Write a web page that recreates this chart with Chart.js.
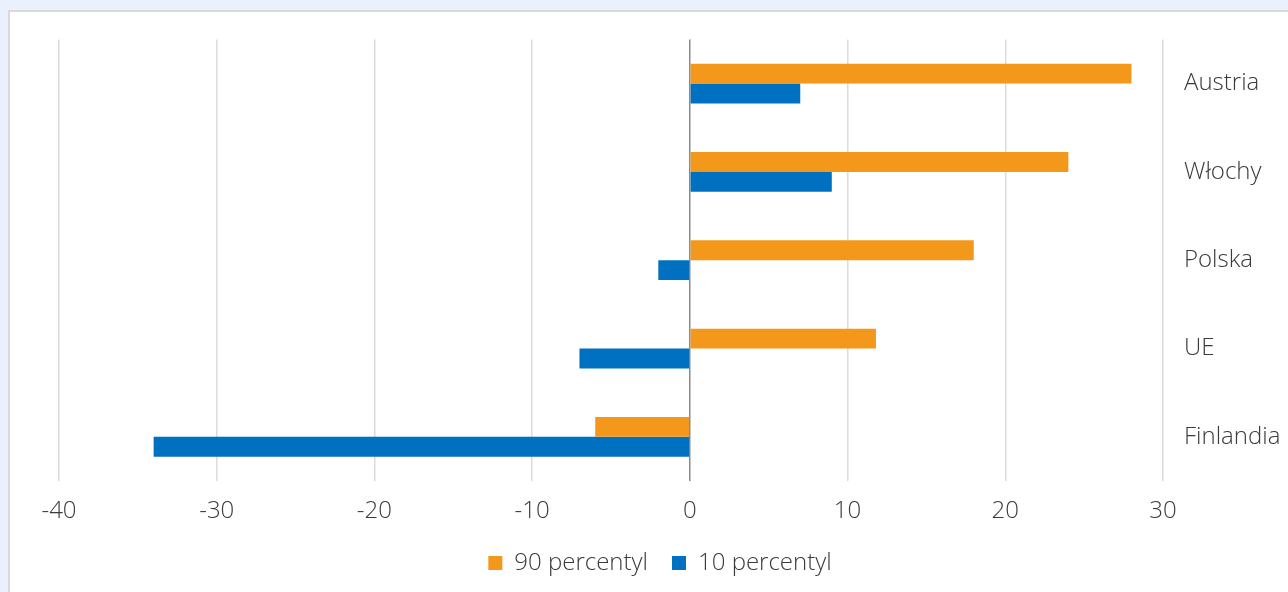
<!DOCTYPE html>
<html>
<head>
<meta charset="utf-8">
<script src="https://cdn.jsdelivr.net/npm/chart.js@4"></script>
<style>
    html, body { margin: 0; padding: 0; background: #eaf1fd; width: 1288px; height: 592px; overflow: hidden; }
    #panel {
        position: absolute; left: 8px; top: 10px;
        width: 1290px; height: 600px;
        background: #ffffff;
        border-left: 2px solid #d9d9d9;
        border-top: 2px solid #d9d9d9;
    }
    #wrap { position: absolute; left: 0; top: 0; width: 1278px; height: 586px; }
</style>
</head>
<body>
<div id="panel"><div id="wrap"><canvas id="chart"></canvas></div></div>
<script>
// Data
const countries = ['Austria', 'Włochy', 'Polska', 'UE', 'Finlandia'];
const p90 = [28, 24, 18, 11.8, -6];
const p10 = [7, 9, -2, -7, -34];
const seriesNames = ['90 percentyl', '10 percentyl'];
const xTicks = [-40, -30, -20, -10, 0, 10, 20, 30];

const FONT = { family: '"Open Sans", "Liberation Sans", sans-serif', size: 24, weight: 300 };
const TEXT = '#3a3a3a';

const ctx = document.getElementById('chart').getContext('2d');

new Chart(ctx, {
    type: 'bar',
    data: {
        labels: countries,
        datasets: [
            {
                label: seriesNames[0],
                data: p90,
                backgroundColor: '#f3981b',
                borderWidth: 0
            },
            {
                label: seriesNames[1],
                data: p10,
                backgroundColor: '#0070c0',
                borderWidth: 0
            }
        ]
    },
    options: {
        indexAxis: 'y',
        responsive: true,
        maintainAspectRatio: false,
        animation: false,
        categoryPercentage: 0.45,
        barPercentage: 1,
        layout: { padding: { left: 22, top: 22, right: 0, bottom: 13 } },
        plugins: {
            legend: {
                position: 'bottom',
                labels: {
                    color: TEXT,
                    font: FONT,
                    boxWidth: 14,
                    boxHeight: 14,
                    padding: 24
                }
            },
            tooltip: { enabled: false }
        },
        scales: {
            x: {
                min: -40,
                max: 30,
                afterBuildTicks: scale => { scale.ticks = xTicks.map(v => ({ value: v })); },
                afterFit: scale => { scale.height = 46; },
                ticks: { color: TEXT, font: FONT, padding: 16 },
                border: { display: false },
                grid: {
                    drawTicks: false,
                    lineWidth: 1.5,
                    color: c => (c.tick && c.tick.value === 0) ? '#8a8a8a' : '#dcdcdc'
                }
            },
            y: {
                position: 'right',
                afterFit: scale => { scale.width = 125; },
                ticks: { color: TEXT, font: FONT, padding: 13 },
                border: { display: false },
                grid: { display: false }
            },
            // empty spacer on the left so the plot starts where the reference does
            spacer: {
                type: 'linear',
                axis: 'y',
                position: 'left',
                afterFit: scale => { scale.width = 27; },
                ticks: { display: false },
                border: { display: false },
                grid: { display: false }
            }
        }
    }
});
</script>
</body>
</html>
